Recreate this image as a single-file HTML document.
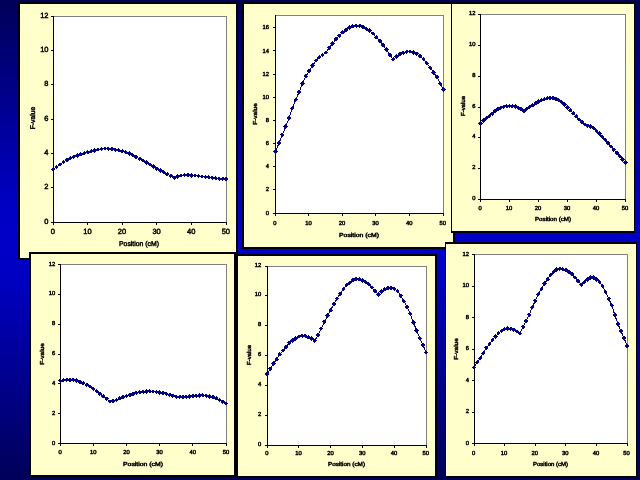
<!DOCTYPE html>
<html lang="en">
<head>
<meta charset="utf-8">
<title>F-value by position</title>
<style>
html,body{margin:0;padding:0;width:640px;height:480px;overflow:hidden;background:#000066}
#slide{position:absolute;left:0;top:0;width:640px;height:480px;
background:linear-gradient(to bottom,#000058 0%,#000098 25%,#0000c2 42%,#0000c8 50%,#0000c2 58%,#000098 75%,#000058 100%);}
svg{position:absolute;left:0;top:0;display:block}
svg text{font-family:"Liberation Sans",sans-serif;font-weight:normal;fill:#000;stroke:#000;stroke-width:0.45px}
</style>
</head>
<body>
<div id="slide">
<svg width="640" height="480" viewBox="0 0 640 480" shape-rendering="crispEdges" text-rendering="geometricPrecision">
<g shape-rendering="geometricPrecision">
<g id="chart1">
<rect x="18" y="2" width="220" height="258" fill="#000"/>
<rect x="20" y="4" width="216" height="254" fill="#FFFFCC"/>
<rect x="53" y="16" width="174" height="207" fill="#808080"/>
<rect x="54" y="17" width="172" height="205" fill="#fff"/>
<rect x="53" y="16" width="1" height="207" fill="#000"/>
<rect x="53" y="222" width="174" height="1" fill="#000"/>
<rect x="51" y="222" width="2" height="1" fill="#000"/>
<text x="48.5" y="223.7" text-anchor="end" font-size="7.5">0</text>
<rect x="51" y="187" width="2" height="1" fill="#000"/>
<text x="48.5" y="189.37" text-anchor="end" font-size="7.5">2</text>
<rect x="51" y="153" width="2" height="1" fill="#000"/>
<text x="48.5" y="155.03" text-anchor="end" font-size="7.5">4</text>
<rect x="51" y="119" width="2" height="1" fill="#000"/>
<text x="48.5" y="120.7" text-anchor="end" font-size="7.5">6</text>
<rect x="51" y="84" width="2" height="1" fill="#000"/>
<text x="48.5" y="86.37" text-anchor="end" font-size="7.5">8</text>
<rect x="51" y="50" width="2" height="1" fill="#000"/>
<text x="48.5" y="52.03" text-anchor="end" font-size="7.5">10</text>
<rect x="51" y="16" width="2" height="1" fill="#000"/>
<text x="48.5" y="17.7" text-anchor="end" font-size="7.5">12</text>
<rect x="53" y="223" width="1" height="2" fill="#000"/>
<text x="52.8" y="234.4" text-anchor="middle" font-size="7.5">0</text>
<rect x="87" y="223" width="1" height="2" fill="#000"/>
<text x="87.4" y="234.4" text-anchor="middle" font-size="7.5">10</text>
<rect x="122" y="223" width="1" height="2" fill="#000"/>
<text x="122" y="234.4" text-anchor="middle" font-size="7.5">20</text>
<rect x="156" y="223" width="1" height="2" fill="#000"/>
<text x="156.6" y="234.4" text-anchor="middle" font-size="7.5">30</text>
<rect x="191" y="223" width="1" height="2" fill="#000"/>
<text x="191.2" y="234.4" text-anchor="middle" font-size="7.5">40</text>
<rect x="226" y="223" width="1" height="2" fill="#000"/>
<text x="225.8" y="234.4" text-anchor="middle" font-size="7.5">50</text>
<text x="139" y="246" text-anchor="middle" font-size="7.0" textLength="40" lengthAdjust="spacingAndGlyphs">Position (cM)</text>
<text transform="translate(32 118) rotate(-90)" y="2.52" text-anchor="middle" font-size="7.0" textLength="22.5" lengthAdjust="spacingAndGlyphs">F-value</text>
<polyline points="53.1,169.59 56.56,166.9 60.02,164.39 63.48,162.1 66.94,160.05 70.4,158.3 73.86,156.79 77.32,155.44 80.78,154.23 84.24,153.15 87.7,152.2 91.16,151.29 94.62,150.37 98.08,149.54 101.54,148.94 105,148.67 108.46,148.78 111.92,149.15 115.38,149.71 118.84,150.4 122.3,151.16 125.76,152.12 129.22,153.5 132.68,155.17 136.14,156.97 139.6,158.77 143.06,160.6 146.52,162.59 149.98,164.66 153.44,166.73 156.9,168.71 160.36,170.58 163.82,172.41 167.28,174.2 170.74,175.95 174.2,177.66 177.66,176.46 181.12,175.49 184.58,174.95 188.04,175.03 191.5,175.26 194.96,175.56 198.42,175.99 201.88,176.5 205.34,177.01 208.8,177.47 212.26,177.85 215.72,178.22 219.18,178.56 222.64,178.89 226.1,179.2" fill="none" stroke="#000080" stroke-width="1" stroke-linejoin="round" shape-rendering="crispEdges"/>
<path d="M53.1 167.29l2.3 2.3l-2.3 2.3l-2.3 -2.3zM56.56 164.6l2.3 2.3l-2.3 2.3l-2.3 -2.3zM60.02 162.09l2.3 2.3l-2.3 2.3l-2.3 -2.3zM63.48 159.8l2.3 2.3l-2.3 2.3l-2.3 -2.3zM66.94 157.75l2.3 2.3l-2.3 2.3l-2.3 -2.3zM70.4 156l2.3 2.3l-2.3 2.3l-2.3 -2.3zM73.86 154.49l2.3 2.3l-2.3 2.3l-2.3 -2.3zM77.32 153.14l2.3 2.3l-2.3 2.3l-2.3 -2.3zM80.78 151.93l2.3 2.3l-2.3 2.3l-2.3 -2.3zM84.24 150.85l2.3 2.3l-2.3 2.3l-2.3 -2.3zM87.7 149.9l2.3 2.3l-2.3 2.3l-2.3 -2.3zM91.16 148.99l2.3 2.3l-2.3 2.3l-2.3 -2.3zM94.62 148.07l2.3 2.3l-2.3 2.3l-2.3 -2.3zM98.08 147.24l2.3 2.3l-2.3 2.3l-2.3 -2.3zM101.54 146.64l2.3 2.3l-2.3 2.3l-2.3 -2.3zM105 146.37l2.3 2.3l-2.3 2.3l-2.3 -2.3zM108.46 146.48l2.3 2.3l-2.3 2.3l-2.3 -2.3zM111.92 146.85l2.3 2.3l-2.3 2.3l-2.3 -2.3zM115.38 147.41l2.3 2.3l-2.3 2.3l-2.3 -2.3zM118.84 148.1l2.3 2.3l-2.3 2.3l-2.3 -2.3zM122.3 148.86l2.3 2.3l-2.3 2.3l-2.3 -2.3zM125.76 149.82l2.3 2.3l-2.3 2.3l-2.3 -2.3zM129.22 151.2l2.3 2.3l-2.3 2.3l-2.3 -2.3zM132.68 152.87l2.3 2.3l-2.3 2.3l-2.3 -2.3zM136.14 154.67l2.3 2.3l-2.3 2.3l-2.3 -2.3zM139.6 156.47l2.3 2.3l-2.3 2.3l-2.3 -2.3zM143.06 158.3l2.3 2.3l-2.3 2.3l-2.3 -2.3zM146.52 160.29l2.3 2.3l-2.3 2.3l-2.3 -2.3zM149.98 162.36l2.3 2.3l-2.3 2.3l-2.3 -2.3zM153.44 164.43l2.3 2.3l-2.3 2.3l-2.3 -2.3zM156.9 166.41l2.3 2.3l-2.3 2.3l-2.3 -2.3zM160.36 168.28l2.3 2.3l-2.3 2.3l-2.3 -2.3zM163.82 170.11l2.3 2.3l-2.3 2.3l-2.3 -2.3zM167.28 171.9l2.3 2.3l-2.3 2.3l-2.3 -2.3zM170.74 173.65l2.3 2.3l-2.3 2.3l-2.3 -2.3zM174.2 175.36l2.3 2.3l-2.3 2.3l-2.3 -2.3zM177.66 174.16l2.3 2.3l-2.3 2.3l-2.3 -2.3zM181.12 173.19l2.3 2.3l-2.3 2.3l-2.3 -2.3zM184.58 172.65l2.3 2.3l-2.3 2.3l-2.3 -2.3zM188.04 172.73l2.3 2.3l-2.3 2.3l-2.3 -2.3zM191.5 172.96l2.3 2.3l-2.3 2.3l-2.3 -2.3zM194.96 173.26l2.3 2.3l-2.3 2.3l-2.3 -2.3zM198.42 173.69l2.3 2.3l-2.3 2.3l-2.3 -2.3zM201.88 174.2l2.3 2.3l-2.3 2.3l-2.3 -2.3zM205.34 174.71l2.3 2.3l-2.3 2.3l-2.3 -2.3zM208.8 175.17l2.3 2.3l-2.3 2.3l-2.3 -2.3zM212.26 175.55l2.3 2.3l-2.3 2.3l-2.3 -2.3zM215.72 175.92l2.3 2.3l-2.3 2.3l-2.3 -2.3zM219.18 176.26l2.3 2.3l-2.3 2.3l-2.3 -2.3zM222.64 176.59l2.3 2.3l-2.3 2.3l-2.3 -2.3zM226.1 176.9l2.3 2.3l-2.3 2.3l-2.3 -2.3z" fill="#000080" shape-rendering="crispEdges"/>
</g>
<g id="chart2">
<rect x="242" y="2" width="213" height="247" fill="#000"/>
<rect x="244" y="4" width="209" height="243" fill="#FFFFCC"/>
<rect x="275" y="15" width="169" height="199" fill="#808080"/>
<rect x="276" y="16" width="167" height="197" fill="#fff"/>
<rect x="275" y="15" width="1" height="199" fill="#000"/>
<rect x="275" y="213" width="169" height="1" fill="#000"/>
<rect x="273" y="213" width="2" height="1" fill="#000"/>
<text x="269" y="214.59" text-anchor="end" font-size="5.8">0</text>
<rect x="273" y="189" width="2" height="1" fill="#000"/>
<text x="269" y="191.44" text-anchor="end" font-size="5.8">2</text>
<rect x="273" y="166" width="2" height="1" fill="#000"/>
<text x="269" y="168.29" text-anchor="end" font-size="5.8">4</text>
<rect x="273" y="143" width="2" height="1" fill="#000"/>
<text x="269" y="145.14" text-anchor="end" font-size="5.8">6</text>
<rect x="273" y="120" width="2" height="1" fill="#000"/>
<text x="269" y="121.99" text-anchor="end" font-size="5.8">8</text>
<rect x="273" y="97" width="2" height="1" fill="#000"/>
<text x="269" y="98.84" text-anchor="end" font-size="5.8">10</text>
<rect x="273" y="74" width="2" height="1" fill="#000"/>
<text x="269" y="75.69" text-anchor="end" font-size="5.8">12</text>
<rect x="273" y="50" width="2" height="1" fill="#000"/>
<text x="269" y="52.54" text-anchor="end" font-size="5.8">14</text>
<rect x="273" y="27" width="2" height="1" fill="#000"/>
<text x="269" y="29.39" text-anchor="end" font-size="5.8">16</text>
<rect x="275" y="214" width="1" height="2" fill="#000"/>
<text x="274.8" y="225.18" text-anchor="middle" font-size="5.8">0</text>
<rect x="308" y="214" width="1" height="2" fill="#000"/>
<text x="308.4" y="225.18" text-anchor="middle" font-size="5.8">10</text>
<rect x="342" y="214" width="1" height="2" fill="#000"/>
<text x="342" y="225.18" text-anchor="middle" font-size="5.8">20</text>
<rect x="375" y="214" width="1" height="2" fill="#000"/>
<text x="375.6" y="225.18" text-anchor="middle" font-size="5.8">30</text>
<rect x="409" y="214" width="1" height="2" fill="#000"/>
<text x="409.2" y="225.18" text-anchor="middle" font-size="5.8">40</text>
<rect x="443" y="214" width="1" height="2" fill="#000"/>
<text x="442.8" y="225.18" text-anchor="middle" font-size="5.8">50</text>
<text x="359" y="236.7" text-anchor="middle" font-size="5.8" textLength="40" lengthAdjust="spacingAndGlyphs">Position (cM)</text>
<text transform="translate(254.5 114) rotate(-90)" y="2.09" text-anchor="middle" font-size="5.8" textLength="21.5" lengthAdjust="spacingAndGlyphs">F-value</text>
<polyline points="275.6,151.5 278.96,143.11 282.32,134.93 285.68,126.6 289.04,118.14 292.4,108.3 295.76,99.62 299.12,92.05 302.48,83.75 305.84,76.34 309.2,70.98 312.56,65.65 315.92,60.6 319.28,57.18 322.64,54.97 326,52.4 329.36,47.82 332.72,43.46 336.08,39.2 339.44,35.86 342.8,32.5 346.16,29.93 349.52,27.54 352.88,26.33 356.24,25.63 359.6,25.83 362.96,27.12 366.32,28.7 369.68,30.59 373.04,33.63 376.4,37.24 379.76,41.01 383.12,45.03 386.48,49.72 389.84,55.14 393.2,59.38 396.56,56.72 399.92,54.22 403.28,52.74 406.64,51.87 410,51.67 413.36,52.47 416.72,53.92 420.08,56.19 423.44,59.14 426.8,63.15 430.16,67.57 433.52,72.28 436.88,77.08 440.24,83.73 443.6,89.6" fill="none" stroke="#000080" stroke-width="1" stroke-linejoin="round" shape-rendering="crispEdges"/>
<path d="M275.6 149.2l2.3 2.3l-2.3 2.3l-2.3 -2.3zM278.96 140.81l2.3 2.3l-2.3 2.3l-2.3 -2.3zM282.32 132.63l2.3 2.3l-2.3 2.3l-2.3 -2.3zM285.68 124.3l2.3 2.3l-2.3 2.3l-2.3 -2.3zM289.04 115.84l2.3 2.3l-2.3 2.3l-2.3 -2.3zM292.4 106l2.3 2.3l-2.3 2.3l-2.3 -2.3zM295.76 97.32l2.3 2.3l-2.3 2.3l-2.3 -2.3zM299.12 89.75l2.3 2.3l-2.3 2.3l-2.3 -2.3zM302.48 81.45l2.3 2.3l-2.3 2.3l-2.3 -2.3zM305.84 74.04l2.3 2.3l-2.3 2.3l-2.3 -2.3zM309.2 68.68l2.3 2.3l-2.3 2.3l-2.3 -2.3zM312.56 63.35l2.3 2.3l-2.3 2.3l-2.3 -2.3zM315.92 58.3l2.3 2.3l-2.3 2.3l-2.3 -2.3zM319.28 54.88l2.3 2.3l-2.3 2.3l-2.3 -2.3zM322.64 52.67l2.3 2.3l-2.3 2.3l-2.3 -2.3zM326 50.1l2.3 2.3l-2.3 2.3l-2.3 -2.3zM329.36 45.52l2.3 2.3l-2.3 2.3l-2.3 -2.3zM332.72 41.16l2.3 2.3l-2.3 2.3l-2.3 -2.3zM336.08 36.9l2.3 2.3l-2.3 2.3l-2.3 -2.3zM339.44 33.56l2.3 2.3l-2.3 2.3l-2.3 -2.3zM342.8 30.2l2.3 2.3l-2.3 2.3l-2.3 -2.3zM346.16 27.63l2.3 2.3l-2.3 2.3l-2.3 -2.3zM349.52 25.24l2.3 2.3l-2.3 2.3l-2.3 -2.3zM352.88 24.03l2.3 2.3l-2.3 2.3l-2.3 -2.3zM356.24 23.33l2.3 2.3l-2.3 2.3l-2.3 -2.3zM359.6 23.53l2.3 2.3l-2.3 2.3l-2.3 -2.3zM362.96 24.82l2.3 2.3l-2.3 2.3l-2.3 -2.3zM366.32 26.4l2.3 2.3l-2.3 2.3l-2.3 -2.3zM369.68 28.29l2.3 2.3l-2.3 2.3l-2.3 -2.3zM373.04 31.33l2.3 2.3l-2.3 2.3l-2.3 -2.3zM376.4 34.94l2.3 2.3l-2.3 2.3l-2.3 -2.3zM379.76 38.71l2.3 2.3l-2.3 2.3l-2.3 -2.3zM383.12 42.73l2.3 2.3l-2.3 2.3l-2.3 -2.3zM386.48 47.42l2.3 2.3l-2.3 2.3l-2.3 -2.3zM389.84 52.84l2.3 2.3l-2.3 2.3l-2.3 -2.3zM393.2 57.08l2.3 2.3l-2.3 2.3l-2.3 -2.3zM396.56 54.42l2.3 2.3l-2.3 2.3l-2.3 -2.3zM399.92 51.92l2.3 2.3l-2.3 2.3l-2.3 -2.3zM403.28 50.44l2.3 2.3l-2.3 2.3l-2.3 -2.3zM406.64 49.57l2.3 2.3l-2.3 2.3l-2.3 -2.3zM410 49.37l2.3 2.3l-2.3 2.3l-2.3 -2.3zM413.36 50.17l2.3 2.3l-2.3 2.3l-2.3 -2.3zM416.72 51.62l2.3 2.3l-2.3 2.3l-2.3 -2.3zM420.08 53.89l2.3 2.3l-2.3 2.3l-2.3 -2.3zM423.44 56.84l2.3 2.3l-2.3 2.3l-2.3 -2.3zM426.8 60.85l2.3 2.3l-2.3 2.3l-2.3 -2.3zM430.16 65.27l2.3 2.3l-2.3 2.3l-2.3 -2.3zM433.52 69.98l2.3 2.3l-2.3 2.3l-2.3 -2.3zM436.88 74.78l2.3 2.3l-2.3 2.3l-2.3 -2.3zM440.24 81.43l2.3 2.3l-2.3 2.3l-2.3 -2.3zM443.6 87.3l2.3 2.3l-2.3 2.3l-2.3 -2.3z" fill="#000080" shape-rendering="crispEdges"/>
</g>
<g id="chart3">
<rect x="451" y="2" width="184" height="231" fill="#000"/>
<rect x="452" y="4" width="182" height="227" fill="#FFFFCC"/>
<rect x="480" y="14" width="146" height="186" fill="#808080"/>
<rect x="481" y="15" width="144" height="184" fill="#fff"/>
<rect x="480" y="14" width="1" height="186" fill="#000"/>
<rect x="480" y="199" width="146" height="1" fill="#000"/>
<rect x="478" y="199" width="2" height="1" fill="#000"/>
<text x="475.4" y="200.09" text-anchor="end" font-size="5.8">0</text>
<rect x="478" y="168" width="2" height="1" fill="#000"/>
<text x="475.4" y="169.25" text-anchor="end" font-size="5.8">2</text>
<rect x="478" y="137" width="2" height="1" fill="#000"/>
<text x="475.4" y="138.42" text-anchor="end" font-size="5.8">4</text>
<rect x="478" y="107" width="2" height="1" fill="#000"/>
<text x="475.4" y="107.59" text-anchor="end" font-size="5.8">6</text>
<rect x="478" y="76" width="2" height="1" fill="#000"/>
<text x="475.4" y="76.75" text-anchor="end" font-size="5.8">8</text>
<rect x="478" y="45" width="2" height="1" fill="#000"/>
<text x="475.4" y="45.92" text-anchor="end" font-size="5.8">10</text>
<rect x="478" y="14" width="2" height="1" fill="#000"/>
<text x="475.4" y="15.09" text-anchor="end" font-size="5.8">12</text>
<rect x="480" y="200" width="1" height="2" fill="#000"/>
<text x="480" y="210.18" text-anchor="middle" font-size="5.8">0</text>
<rect x="509" y="200" width="1" height="2" fill="#000"/>
<text x="509" y="210.18" text-anchor="middle" font-size="5.8">10</text>
<rect x="538" y="200" width="1" height="2" fill="#000"/>
<text x="538" y="210.18" text-anchor="middle" font-size="5.8">20</text>
<rect x="567" y="200" width="1" height="2" fill="#000"/>
<text x="567" y="210.18" text-anchor="middle" font-size="5.8">30</text>
<rect x="596" y="200" width="1" height="2" fill="#000"/>
<text x="596" y="210.18" text-anchor="middle" font-size="5.8">40</text>
<rect x="625" y="200" width="1" height="2" fill="#000"/>
<text x="625" y="210.18" text-anchor="middle" font-size="5.8">50</text>
<text x="553" y="221" text-anchor="middle" font-size="5.8" textLength="36" lengthAdjust="spacingAndGlyphs">Position (cM)</text>
<text transform="translate(462.7 106) rotate(-90)" y="2.09" text-anchor="middle" font-size="5.8" textLength="20" lengthAdjust="spacingAndGlyphs">F-value</text>
<polyline points="480.5,123.7 483.4,120.7 486.3,118.37 489.2,116.23 492.1,113.75 495,111.16 497.9,109.2 500.8,107.69 503.7,106.79 506.6,106.13 509.5,105.9 512.4,106.14 515.3,106.6 518.2,107.59 521.1,109.11 524,111.17 526.9,108.73 529.8,106.89 532.7,105.08 535.6,103.25 538.5,101.6 541.4,100.08 544.3,99.02 547.2,98.23 550.1,98.02 553,98.29 555.9,98.82 558.8,100.2 561.7,102.1 564.6,104.54 567.5,107.24 570.4,110.3 573.3,113.37 576.2,116.46 579.1,119.42 582,122.29 584.9,124.5 587.8,125.52 590.7,126.45 593.6,128.27 596.5,130.84 599.4,133.62 602.3,136.71 605.2,139.88 608.1,143.15 611,146.48 613.9,149.75 616.8,153.01 619.7,156.23 622.6,159.39 625.5,162.5" fill="none" stroke="#000080" stroke-width="1" stroke-linejoin="round" shape-rendering="crispEdges"/>
<path d="M480.5 121.4l2.3 2.3l-2.3 2.3l-2.3 -2.3zM483.4 118.4l2.3 2.3l-2.3 2.3l-2.3 -2.3zM486.3 116.07l2.3 2.3l-2.3 2.3l-2.3 -2.3zM489.2 113.93l2.3 2.3l-2.3 2.3l-2.3 -2.3zM492.1 111.45l2.3 2.3l-2.3 2.3l-2.3 -2.3zM495 108.86l2.3 2.3l-2.3 2.3l-2.3 -2.3zM497.9 106.9l2.3 2.3l-2.3 2.3l-2.3 -2.3zM500.8 105.39l2.3 2.3l-2.3 2.3l-2.3 -2.3zM503.7 104.49l2.3 2.3l-2.3 2.3l-2.3 -2.3zM506.6 103.83l2.3 2.3l-2.3 2.3l-2.3 -2.3zM509.5 103.6l2.3 2.3l-2.3 2.3l-2.3 -2.3zM512.4 103.84l2.3 2.3l-2.3 2.3l-2.3 -2.3zM515.3 104.3l2.3 2.3l-2.3 2.3l-2.3 -2.3zM518.2 105.29l2.3 2.3l-2.3 2.3l-2.3 -2.3zM521.1 106.81l2.3 2.3l-2.3 2.3l-2.3 -2.3zM524 108.87l2.3 2.3l-2.3 2.3l-2.3 -2.3zM526.9 106.43l2.3 2.3l-2.3 2.3l-2.3 -2.3zM529.8 104.59l2.3 2.3l-2.3 2.3l-2.3 -2.3zM532.7 102.78l2.3 2.3l-2.3 2.3l-2.3 -2.3zM535.6 100.95l2.3 2.3l-2.3 2.3l-2.3 -2.3zM538.5 99.3l2.3 2.3l-2.3 2.3l-2.3 -2.3zM541.4 97.78l2.3 2.3l-2.3 2.3l-2.3 -2.3zM544.3 96.72l2.3 2.3l-2.3 2.3l-2.3 -2.3zM547.2 95.93l2.3 2.3l-2.3 2.3l-2.3 -2.3zM550.1 95.72l2.3 2.3l-2.3 2.3l-2.3 -2.3zM553 95.99l2.3 2.3l-2.3 2.3l-2.3 -2.3zM555.9 96.52l2.3 2.3l-2.3 2.3l-2.3 -2.3zM558.8 97.9l2.3 2.3l-2.3 2.3l-2.3 -2.3zM561.7 99.8l2.3 2.3l-2.3 2.3l-2.3 -2.3zM564.6 102.24l2.3 2.3l-2.3 2.3l-2.3 -2.3zM567.5 104.94l2.3 2.3l-2.3 2.3l-2.3 -2.3zM570.4 108l2.3 2.3l-2.3 2.3l-2.3 -2.3zM573.3 111.07l2.3 2.3l-2.3 2.3l-2.3 -2.3zM576.2 114.16l2.3 2.3l-2.3 2.3l-2.3 -2.3zM579.1 117.12l2.3 2.3l-2.3 2.3l-2.3 -2.3zM582 119.99l2.3 2.3l-2.3 2.3l-2.3 -2.3zM584.9 122.2l2.3 2.3l-2.3 2.3l-2.3 -2.3zM587.8 123.22l2.3 2.3l-2.3 2.3l-2.3 -2.3zM590.7 124.15l2.3 2.3l-2.3 2.3l-2.3 -2.3zM593.6 125.97l2.3 2.3l-2.3 2.3l-2.3 -2.3zM596.5 128.54l2.3 2.3l-2.3 2.3l-2.3 -2.3zM599.4 131.32l2.3 2.3l-2.3 2.3l-2.3 -2.3zM602.3 134.41l2.3 2.3l-2.3 2.3l-2.3 -2.3zM605.2 137.58l2.3 2.3l-2.3 2.3l-2.3 -2.3zM608.1 140.85l2.3 2.3l-2.3 2.3l-2.3 -2.3zM611 144.18l2.3 2.3l-2.3 2.3l-2.3 -2.3zM613.9 147.45l2.3 2.3l-2.3 2.3l-2.3 -2.3zM616.8 150.71l2.3 2.3l-2.3 2.3l-2.3 -2.3zM619.7 153.93l2.3 2.3l-2.3 2.3l-2.3 -2.3zM622.6 157.09l2.3 2.3l-2.3 2.3l-2.3 -2.3zM625.5 160.2l2.3 2.3l-2.3 2.3l-2.3 -2.3z" fill="#000080" shape-rendering="crispEdges"/>
</g>
<g id="chart4">
<rect x="236" y="254" width="201" height="224" fill="#000"/>
<rect x="238" y="256" width="197" height="220" fill="#FFFFCC"/>
<rect x="267" y="266" width="160" height="180" fill="#808080"/>
<rect x="268" y="267" width="158" height="178" fill="#fff"/>
<rect x="267" y="266" width="1" height="180" fill="#000"/>
<rect x="267" y="445" width="160" height="1" fill="#000"/>
<rect x="265" y="445" width="2" height="1" fill="#000"/>
<text x="261.3" y="445.59" text-anchor="end" font-size="5.8">0</text>
<rect x="265" y="415" width="2" height="1" fill="#000"/>
<text x="261.3" y="415.75" text-anchor="end" font-size="5.8">2</text>
<rect x="265" y="385" width="2" height="1" fill="#000"/>
<text x="261.3" y="385.92" text-anchor="end" font-size="5.8">4</text>
<rect x="265" y="355" width="2" height="1" fill="#000"/>
<text x="261.3" y="356.09" text-anchor="end" font-size="5.8">6</text>
<rect x="265" y="325" width="2" height="1" fill="#000"/>
<text x="261.3" y="326.25" text-anchor="end" font-size="5.8">8</text>
<rect x="265" y="295" width="2" height="1" fill="#000"/>
<text x="261.3" y="296.42" text-anchor="end" font-size="5.8">10</text>
<rect x="265" y="266" width="2" height="1" fill="#000"/>
<text x="261.3" y="266.59" text-anchor="end" font-size="5.8">12</text>
<rect x="267" y="446" width="1" height="2" fill="#000"/>
<text x="266.8" y="455.18" text-anchor="middle" font-size="5.8">0</text>
<rect x="298" y="446" width="1" height="2" fill="#000"/>
<text x="298.6" y="455.18" text-anchor="middle" font-size="5.8">10</text>
<rect x="330" y="446" width="1" height="2" fill="#000"/>
<text x="330.4" y="455.18" text-anchor="middle" font-size="5.8">20</text>
<rect x="362" y="446" width="1" height="2" fill="#000"/>
<text x="362.2" y="455.18" text-anchor="middle" font-size="5.8">30</text>
<rect x="394" y="446" width="1" height="2" fill="#000"/>
<text x="394" y="455.18" text-anchor="middle" font-size="5.8">40</text>
<rect x="426" y="446" width="1" height="2" fill="#000"/>
<text x="425.8" y="455.18" text-anchor="middle" font-size="5.8">50</text>
<text x="346.5" y="466" text-anchor="middle" font-size="5.8" textLength="37" lengthAdjust="spacingAndGlyphs">Position (cM)</text>
<text transform="translate(248.8 355) rotate(-90)" y="2.09" text-anchor="middle" font-size="5.8" textLength="20" lengthAdjust="spacingAndGlyphs">F-value</text>
<polyline points="267.1,373.98 270.28,368.59 273.46,363.66 276.64,359.24 279.82,354.31 283,350.51 286.18,347.04 289.36,342.89 292.54,340.54 295.72,338.43 298.9,336.55 302.08,335.67 305.26,335.92 308.44,337.23 311.62,338.6 314.8,340.69 317.98,335.18 321.16,328.47 324.34,321.92 327.52,315.75 330.7,310.06 333.88,304.06 337.06,298.65 340.24,293.62 343.42,289.04 346.6,284.89 349.78,282.56 352.96,280.07 356.14,279.03 359.32,279.32 362.5,280.59 365.68,282.24 368.86,284.31 372.04,287.67 375.22,291.08 378.4,294.67 381.58,291.53 384.76,289.27 387.94,288.19 391.12,287.81 394.3,288.88 397.48,290.91 400.66,295.67 403.84,301.25 407.02,306.87 410.2,313.87 413.38,322.41 416.56,330.47 419.74,338.12 422.92,345.01 426.1,352.52" fill="none" stroke="#000080" stroke-width="1" stroke-linejoin="round" shape-rendering="crispEdges"/>
<path d="M267.1 371.68l2.3 2.3l-2.3 2.3l-2.3 -2.3zM270.28 366.29l2.3 2.3l-2.3 2.3l-2.3 -2.3zM273.46 361.36l2.3 2.3l-2.3 2.3l-2.3 -2.3zM276.64 356.94l2.3 2.3l-2.3 2.3l-2.3 -2.3zM279.82 352.01l2.3 2.3l-2.3 2.3l-2.3 -2.3zM283 348.21l2.3 2.3l-2.3 2.3l-2.3 -2.3zM286.18 344.74l2.3 2.3l-2.3 2.3l-2.3 -2.3zM289.36 340.59l2.3 2.3l-2.3 2.3l-2.3 -2.3zM292.54 338.24l2.3 2.3l-2.3 2.3l-2.3 -2.3zM295.72 336.13l2.3 2.3l-2.3 2.3l-2.3 -2.3zM298.9 334.25l2.3 2.3l-2.3 2.3l-2.3 -2.3zM302.08 333.37l2.3 2.3l-2.3 2.3l-2.3 -2.3zM305.26 333.62l2.3 2.3l-2.3 2.3l-2.3 -2.3zM308.44 334.93l2.3 2.3l-2.3 2.3l-2.3 -2.3zM311.62 336.3l2.3 2.3l-2.3 2.3l-2.3 -2.3zM314.8 338.39l2.3 2.3l-2.3 2.3l-2.3 -2.3zM317.98 332.88l2.3 2.3l-2.3 2.3l-2.3 -2.3zM321.16 326.17l2.3 2.3l-2.3 2.3l-2.3 -2.3zM324.34 319.62l2.3 2.3l-2.3 2.3l-2.3 -2.3zM327.52 313.45l2.3 2.3l-2.3 2.3l-2.3 -2.3zM330.7 307.76l2.3 2.3l-2.3 2.3l-2.3 -2.3zM333.88 301.76l2.3 2.3l-2.3 2.3l-2.3 -2.3zM337.06 296.35l2.3 2.3l-2.3 2.3l-2.3 -2.3zM340.24 291.32l2.3 2.3l-2.3 2.3l-2.3 -2.3zM343.42 286.74l2.3 2.3l-2.3 2.3l-2.3 -2.3zM346.6 282.59l2.3 2.3l-2.3 2.3l-2.3 -2.3zM349.78 280.26l2.3 2.3l-2.3 2.3l-2.3 -2.3zM352.96 277.77l2.3 2.3l-2.3 2.3l-2.3 -2.3zM356.14 276.73l2.3 2.3l-2.3 2.3l-2.3 -2.3zM359.32 277.02l2.3 2.3l-2.3 2.3l-2.3 -2.3zM362.5 278.29l2.3 2.3l-2.3 2.3l-2.3 -2.3zM365.68 279.94l2.3 2.3l-2.3 2.3l-2.3 -2.3zM368.86 282.01l2.3 2.3l-2.3 2.3l-2.3 -2.3zM372.04 285.37l2.3 2.3l-2.3 2.3l-2.3 -2.3zM375.22 288.78l2.3 2.3l-2.3 2.3l-2.3 -2.3zM378.4 292.37l2.3 2.3l-2.3 2.3l-2.3 -2.3zM381.58 289.23l2.3 2.3l-2.3 2.3l-2.3 -2.3zM384.76 286.97l2.3 2.3l-2.3 2.3l-2.3 -2.3zM387.94 285.89l2.3 2.3l-2.3 2.3l-2.3 -2.3zM391.12 285.51l2.3 2.3l-2.3 2.3l-2.3 -2.3zM394.3 286.58l2.3 2.3l-2.3 2.3l-2.3 -2.3zM397.48 288.61l2.3 2.3l-2.3 2.3l-2.3 -2.3zM400.66 293.37l2.3 2.3l-2.3 2.3l-2.3 -2.3zM403.84 298.95l2.3 2.3l-2.3 2.3l-2.3 -2.3zM407.02 304.57l2.3 2.3l-2.3 2.3l-2.3 -2.3zM410.2 311.57l2.3 2.3l-2.3 2.3l-2.3 -2.3zM413.38 320.11l2.3 2.3l-2.3 2.3l-2.3 -2.3zM416.56 328.17l2.3 2.3l-2.3 2.3l-2.3 -2.3zM419.74 335.82l2.3 2.3l-2.3 2.3l-2.3 -2.3zM422.92 342.71l2.3 2.3l-2.3 2.3l-2.3 -2.3zM426.1 350.22l2.3 2.3l-2.3 2.3l-2.3 -2.3z" fill="#000080" shape-rendering="crispEdges"/>
</g>
<g id="chart5">
<rect x="29" y="252" width="207" height="225" fill="#000"/>
<rect x="31" y="254" width="203" height="221" fill="#FFFFCC"/>
<rect x="60" y="264" width="167" height="180" fill="#808080"/>
<rect x="61" y="265" width="165" height="178" fill="#fff"/>
<rect x="60" y="264" width="1" height="180" fill="#000"/>
<rect x="60" y="443" width="167" height="1" fill="#000"/>
<rect x="58" y="443" width="2" height="1" fill="#000"/>
<text x="55.2" y="444.59" text-anchor="end" font-size="5.8">0</text>
<rect x="58" y="413" width="2" height="1" fill="#000"/>
<text x="55.2" y="414.75" text-anchor="end" font-size="5.8">2</text>
<rect x="58" y="383" width="2" height="1" fill="#000"/>
<text x="55.2" y="384.92" text-anchor="end" font-size="5.8">4</text>
<rect x="58" y="354" width="2" height="1" fill="#000"/>
<text x="55.2" y="355.09" text-anchor="end" font-size="5.8">6</text>
<rect x="58" y="324" width="2" height="1" fill="#000"/>
<text x="55.2" y="325.25" text-anchor="end" font-size="5.8">8</text>
<rect x="58" y="294" width="2" height="1" fill="#000"/>
<text x="55.2" y="295.42" text-anchor="end" font-size="5.8">10</text>
<rect x="58" y="264" width="2" height="1" fill="#000"/>
<text x="55.2" y="265.59" text-anchor="end" font-size="5.8">12</text>
<rect x="60" y="444" width="1" height="2" fill="#000"/>
<text x="60" y="454.18" text-anchor="middle" font-size="5.8">0</text>
<rect x="93" y="444" width="1" height="2" fill="#000"/>
<text x="93.2" y="454.18" text-anchor="middle" font-size="5.8">10</text>
<rect x="126" y="444" width="1" height="2" fill="#000"/>
<text x="126.4" y="454.18" text-anchor="middle" font-size="5.8">20</text>
<rect x="159" y="444" width="1" height="2" fill="#000"/>
<text x="159.6" y="454.18" text-anchor="middle" font-size="5.8">30</text>
<rect x="192" y="444" width="1" height="2" fill="#000"/>
<text x="192.8" y="454.18" text-anchor="middle" font-size="5.8">40</text>
<rect x="226" y="444" width="1" height="2" fill="#000"/>
<text x="226" y="454.18" text-anchor="middle" font-size="5.8">50</text>
<text x="143" y="466" text-anchor="middle" font-size="5.8" textLength="40" lengthAdjust="spacingAndGlyphs">Position (cM)</text>
<text transform="translate(42 354) rotate(-90)" y="2.09" text-anchor="middle" font-size="5.8" textLength="21.5" lengthAdjust="spacingAndGlyphs">F-value</text>
<polyline points="60.1,380.79 63.42,380.13 66.74,379.77 70.06,379.77 73.38,379.86 76.7,380.44 80.02,381.96 83.34,383.28 86.66,384.73 89.98,386.59 93.3,388.79 96.62,391.18 99.94,393.73 103.26,396.21 106.58,398.75 109.9,401.47 113.22,401.06 116.54,399.89 119.86,398.37 123.18,396.94 126.5,395.95 129.82,395.05 133.14,393.89 136.46,392.8 139.78,392.17 143.1,391.73 146.42,391.41 149.74,391.31 153.06,391.56 156.38,392.03 159.7,392.55 163.02,393.15 166.34,393.89 169.66,394.74 172.98,395.73 176.3,396.9 179.62,396.89 182.94,396.85 186.26,396.78 189.58,396.51 192.9,396.12 196.22,395.78 199.54,395.45 202.86,395.3 206.18,395.6 209.5,396.24 212.82,397.05 216.14,398.41 219.46,400.03 222.78,401.69 226.1,403.52" fill="none" stroke="#000080" stroke-width="1" stroke-linejoin="round" shape-rendering="crispEdges"/>
<path d="M60.1 378.49l2.3 2.3l-2.3 2.3l-2.3 -2.3zM63.42 377.83l2.3 2.3l-2.3 2.3l-2.3 -2.3zM66.74 377.47l2.3 2.3l-2.3 2.3l-2.3 -2.3zM70.06 377.47l2.3 2.3l-2.3 2.3l-2.3 -2.3zM73.38 377.56l2.3 2.3l-2.3 2.3l-2.3 -2.3zM76.7 378.14l2.3 2.3l-2.3 2.3l-2.3 -2.3zM80.02 379.66l2.3 2.3l-2.3 2.3l-2.3 -2.3zM83.34 380.98l2.3 2.3l-2.3 2.3l-2.3 -2.3zM86.66 382.43l2.3 2.3l-2.3 2.3l-2.3 -2.3zM89.98 384.29l2.3 2.3l-2.3 2.3l-2.3 -2.3zM93.3 386.49l2.3 2.3l-2.3 2.3l-2.3 -2.3zM96.62 388.88l2.3 2.3l-2.3 2.3l-2.3 -2.3zM99.94 391.43l2.3 2.3l-2.3 2.3l-2.3 -2.3zM103.26 393.91l2.3 2.3l-2.3 2.3l-2.3 -2.3zM106.58 396.45l2.3 2.3l-2.3 2.3l-2.3 -2.3zM109.9 399.17l2.3 2.3l-2.3 2.3l-2.3 -2.3zM113.22 398.76l2.3 2.3l-2.3 2.3l-2.3 -2.3zM116.54 397.59l2.3 2.3l-2.3 2.3l-2.3 -2.3zM119.86 396.07l2.3 2.3l-2.3 2.3l-2.3 -2.3zM123.18 394.64l2.3 2.3l-2.3 2.3l-2.3 -2.3zM126.5 393.65l2.3 2.3l-2.3 2.3l-2.3 -2.3zM129.82 392.75l2.3 2.3l-2.3 2.3l-2.3 -2.3zM133.14 391.59l2.3 2.3l-2.3 2.3l-2.3 -2.3zM136.46 390.5l2.3 2.3l-2.3 2.3l-2.3 -2.3zM139.78 389.87l2.3 2.3l-2.3 2.3l-2.3 -2.3zM143.1 389.43l2.3 2.3l-2.3 2.3l-2.3 -2.3zM146.42 389.11l2.3 2.3l-2.3 2.3l-2.3 -2.3zM149.74 389.01l2.3 2.3l-2.3 2.3l-2.3 -2.3zM153.06 389.26l2.3 2.3l-2.3 2.3l-2.3 -2.3zM156.38 389.73l2.3 2.3l-2.3 2.3l-2.3 -2.3zM159.7 390.25l2.3 2.3l-2.3 2.3l-2.3 -2.3zM163.02 390.85l2.3 2.3l-2.3 2.3l-2.3 -2.3zM166.34 391.59l2.3 2.3l-2.3 2.3l-2.3 -2.3zM169.66 392.44l2.3 2.3l-2.3 2.3l-2.3 -2.3zM172.98 393.43l2.3 2.3l-2.3 2.3l-2.3 -2.3zM176.3 394.6l2.3 2.3l-2.3 2.3l-2.3 -2.3zM179.62 394.59l2.3 2.3l-2.3 2.3l-2.3 -2.3zM182.94 394.55l2.3 2.3l-2.3 2.3l-2.3 -2.3zM186.26 394.48l2.3 2.3l-2.3 2.3l-2.3 -2.3zM189.58 394.21l2.3 2.3l-2.3 2.3l-2.3 -2.3zM192.9 393.82l2.3 2.3l-2.3 2.3l-2.3 -2.3zM196.22 393.48l2.3 2.3l-2.3 2.3l-2.3 -2.3zM199.54 393.15l2.3 2.3l-2.3 2.3l-2.3 -2.3zM202.86 393l2.3 2.3l-2.3 2.3l-2.3 -2.3zM206.18 393.3l2.3 2.3l-2.3 2.3l-2.3 -2.3zM209.5 393.94l2.3 2.3l-2.3 2.3l-2.3 -2.3zM212.82 394.75l2.3 2.3l-2.3 2.3l-2.3 -2.3zM216.14 396.11l2.3 2.3l-2.3 2.3l-2.3 -2.3zM219.46 397.73l2.3 2.3l-2.3 2.3l-2.3 -2.3zM222.78 399.39l2.3 2.3l-2.3 2.3l-2.3 -2.3zM226.1 401.22l2.3 2.3l-2.3 2.3l-2.3 -2.3z" fill="#000080" shape-rendering="crispEdges"/>
</g>
<g id="chart6">
<rect x="445" y="242" width="192" height="236" fill="#000"/>
<rect x="446" y="244" width="190" height="232" fill="#FFFFCC"/>
<rect x="474" y="254" width="154" height="190" fill="#808080"/>
<rect x="475" y="255" width="152" height="188" fill="#fff"/>
<rect x="474" y="254" width="1" height="190" fill="#000"/>
<rect x="474" y="443" width="154" height="1" fill="#000"/>
<rect x="472" y="443" width="2" height="1" fill="#000"/>
<text x="469" y="444.59" text-anchor="end" font-size="5.8">0</text>
<rect x="472" y="412" width="2" height="1" fill="#000"/>
<text x="469" y="413.09" text-anchor="end" font-size="5.8">2</text>
<rect x="472" y="380" width="2" height="1" fill="#000"/>
<text x="469" y="381.59" text-anchor="end" font-size="5.8">4</text>
<rect x="472" y="349" width="2" height="1" fill="#000"/>
<text x="469" y="350.09" text-anchor="end" font-size="5.8">6</text>
<rect x="472" y="317" width="2" height="1" fill="#000"/>
<text x="469" y="318.59" text-anchor="end" font-size="5.8">8</text>
<rect x="472" y="286" width="2" height="1" fill="#000"/>
<text x="469" y="287.09" text-anchor="end" font-size="5.8">10</text>
<rect x="472" y="254" width="2" height="1" fill="#000"/>
<text x="469" y="255.59" text-anchor="end" font-size="5.8">12</text>
<rect x="474" y="444" width="1" height="2" fill="#000"/>
<text x="473.5" y="455.18" text-anchor="middle" font-size="5.8">0</text>
<rect x="504" y="444" width="1" height="2" fill="#000"/>
<text x="504.1" y="455.18" text-anchor="middle" font-size="5.8">10</text>
<rect x="535" y="444" width="1" height="2" fill="#000"/>
<text x="534.7" y="455.18" text-anchor="middle" font-size="5.8">20</text>
<rect x="565" y="444" width="1" height="2" fill="#000"/>
<text x="565.3" y="455.18" text-anchor="middle" font-size="5.8">30</text>
<rect x="596" y="444" width="1" height="2" fill="#000"/>
<text x="595.9" y="455.18" text-anchor="middle" font-size="5.8">40</text>
<rect x="627" y="444" width="1" height="2" fill="#000"/>
<text x="626.5" y="455.18" text-anchor="middle" font-size="5.8">50</text>
<text x="550.5" y="466" text-anchor="middle" font-size="5.8" textLength="35" lengthAdjust="spacingAndGlyphs">Position (cM)</text>
<text transform="translate(456 349) rotate(-90)" y="2.09" text-anchor="middle" font-size="5.8" textLength="21.5" lengthAdjust="spacingAndGlyphs">F-value</text>
<polyline points="474.1,367.5 477.16,362.41 480.22,358.15 483.28,353.09 486.34,347.77 489.4,344 492.46,340.05 495.52,336.34 498.58,333.03 501.64,330.81 504.7,329.01 507.76,328.5 510.82,328.74 513.88,329.7 516.94,331.4 520,333.4 523.06,326.68 526.12,320.86 529.18,314.58 532.24,307.42 535.3,300.81 538.36,294.27 541.42,288.93 544.48,283.53 547.54,279.24 550.6,274.89 553.66,271.68 556.72,269.47 559.78,268.75 562.84,269.34 565.9,270.12 568.96,271.94 572.02,274.18 575.08,277.49 578.14,281.08 581.2,284.65 584.26,282.22 587.32,279.53 590.38,277.52 593.44,277.74 596.5,279.32 599.56,282.09 602.62,286.06 605.68,292.02 608.74,298.84 611.8,305.36 614.86,315.17 617.92,323.8 620.98,331.28 624.04,337.91 627.1,345.92" fill="none" stroke="#000080" stroke-width="1" stroke-linejoin="round" shape-rendering="crispEdges"/>
<path d="M474.1 365.2l2.3 2.3l-2.3 2.3l-2.3 -2.3zM477.16 360.11l2.3 2.3l-2.3 2.3l-2.3 -2.3zM480.22 355.85l2.3 2.3l-2.3 2.3l-2.3 -2.3zM483.28 350.79l2.3 2.3l-2.3 2.3l-2.3 -2.3zM486.34 345.47l2.3 2.3l-2.3 2.3l-2.3 -2.3zM489.4 341.7l2.3 2.3l-2.3 2.3l-2.3 -2.3zM492.46 337.75l2.3 2.3l-2.3 2.3l-2.3 -2.3zM495.52 334.04l2.3 2.3l-2.3 2.3l-2.3 -2.3zM498.58 330.73l2.3 2.3l-2.3 2.3l-2.3 -2.3zM501.64 328.51l2.3 2.3l-2.3 2.3l-2.3 -2.3zM504.7 326.71l2.3 2.3l-2.3 2.3l-2.3 -2.3zM507.76 326.2l2.3 2.3l-2.3 2.3l-2.3 -2.3zM510.82 326.44l2.3 2.3l-2.3 2.3l-2.3 -2.3zM513.88 327.4l2.3 2.3l-2.3 2.3l-2.3 -2.3zM516.94 329.1l2.3 2.3l-2.3 2.3l-2.3 -2.3zM520 331.1l2.3 2.3l-2.3 2.3l-2.3 -2.3zM523.06 324.38l2.3 2.3l-2.3 2.3l-2.3 -2.3zM526.12 318.56l2.3 2.3l-2.3 2.3l-2.3 -2.3zM529.18 312.28l2.3 2.3l-2.3 2.3l-2.3 -2.3zM532.24 305.12l2.3 2.3l-2.3 2.3l-2.3 -2.3zM535.3 298.51l2.3 2.3l-2.3 2.3l-2.3 -2.3zM538.36 291.97l2.3 2.3l-2.3 2.3l-2.3 -2.3zM541.42 286.63l2.3 2.3l-2.3 2.3l-2.3 -2.3zM544.48 281.23l2.3 2.3l-2.3 2.3l-2.3 -2.3zM547.54 276.94l2.3 2.3l-2.3 2.3l-2.3 -2.3zM550.6 272.59l2.3 2.3l-2.3 2.3l-2.3 -2.3zM553.66 269.38l2.3 2.3l-2.3 2.3l-2.3 -2.3zM556.72 267.17l2.3 2.3l-2.3 2.3l-2.3 -2.3zM559.78 266.45l2.3 2.3l-2.3 2.3l-2.3 -2.3zM562.84 267.04l2.3 2.3l-2.3 2.3l-2.3 -2.3zM565.9 267.82l2.3 2.3l-2.3 2.3l-2.3 -2.3zM568.96 269.64l2.3 2.3l-2.3 2.3l-2.3 -2.3zM572.02 271.88l2.3 2.3l-2.3 2.3l-2.3 -2.3zM575.08 275.19l2.3 2.3l-2.3 2.3l-2.3 -2.3zM578.14 278.78l2.3 2.3l-2.3 2.3l-2.3 -2.3zM581.2 282.35l2.3 2.3l-2.3 2.3l-2.3 -2.3zM584.26 279.92l2.3 2.3l-2.3 2.3l-2.3 -2.3zM587.32 277.23l2.3 2.3l-2.3 2.3l-2.3 -2.3zM590.38 275.22l2.3 2.3l-2.3 2.3l-2.3 -2.3zM593.44 275.44l2.3 2.3l-2.3 2.3l-2.3 -2.3zM596.5 277.02l2.3 2.3l-2.3 2.3l-2.3 -2.3zM599.56 279.79l2.3 2.3l-2.3 2.3l-2.3 -2.3zM602.62 283.76l2.3 2.3l-2.3 2.3l-2.3 -2.3zM605.68 289.72l2.3 2.3l-2.3 2.3l-2.3 -2.3zM608.74 296.54l2.3 2.3l-2.3 2.3l-2.3 -2.3zM611.8 303.06l2.3 2.3l-2.3 2.3l-2.3 -2.3zM614.86 312.87l2.3 2.3l-2.3 2.3l-2.3 -2.3zM617.92 321.5l2.3 2.3l-2.3 2.3l-2.3 -2.3zM620.98 328.98l2.3 2.3l-2.3 2.3l-2.3 -2.3zM624.04 335.61l2.3 2.3l-2.3 2.3l-2.3 -2.3zM627.1 343.62l2.3 2.3l-2.3 2.3l-2.3 -2.3z" fill="#000080" shape-rendering="crispEdges"/>
</g>
</g>
</svg>
</div>
</body>
</html>
